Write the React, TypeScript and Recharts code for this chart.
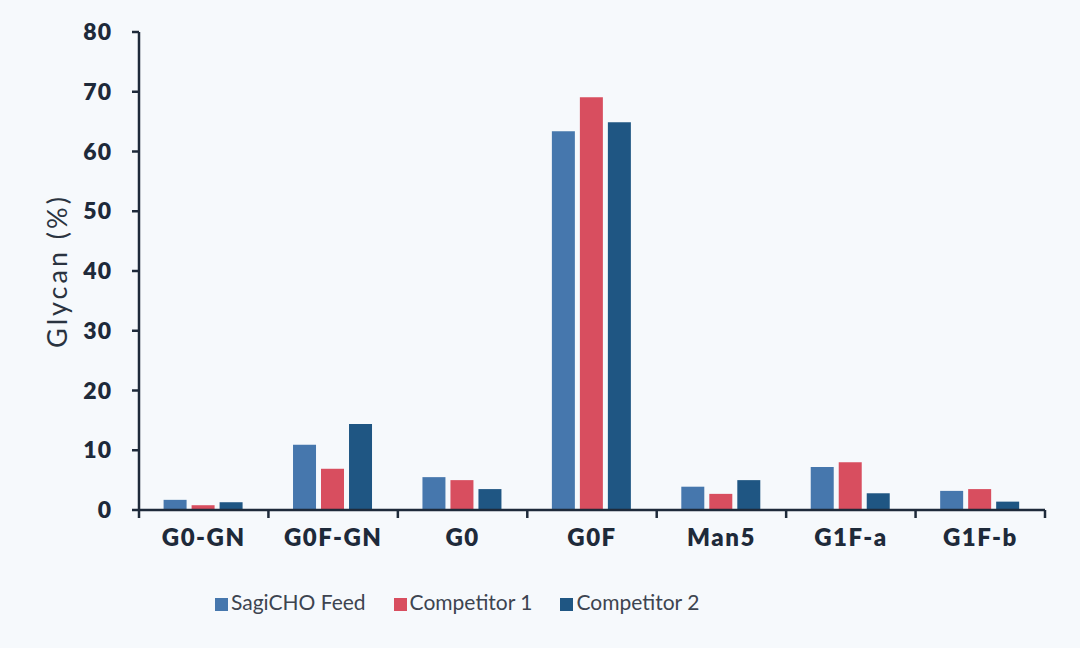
import { Bar, BarChart, Legend, XAxis, YAxis } from "recharts";

const categories = ["G0-GN", "G0F-GN", "G0", "G0F", "Man5", "G1F-a", "G1F-b"];
const sagiCho = [1.7, 10.9, 5.5, 63.4, 3.9, 7.2, 3.2];
const competitor1 = [0.8, 6.9, 5.0, 69.1, 2.7, 8.0, 3.5];
const competitor2 = [1.3, 14.4, 3.5, 64.9, 5.0, 2.8, 1.4];
const yTicks = [0, 10, 20, 30, 40, 50, 60, 70, 80];

const series = [
  { key: "sagi", name: "SagiCHO Feed", color: "#4677ad" },
  { key: "comp1", name: "Competitor 1", color: "#d84e5f" },
  { key: "comp2", name: "Competitor 2", color: "#1f5683" },
];

const data = categories.map((c, i) => ({
  name: c,
  sagi: sagiCho[i],
  comp1: competitor1[i],
  comp2: competitor2[i],
}));

const AXIS = "#1e2a3a";
const FONT = "Lato, 'Noto Sans', sans-serif";

function CategoryTick(props: any) {
  const { x, y, payload, index, width } = props;
  const half = payload?.offset ?? width / categories.length / 2;
  const last = index === categories.length - 1;
  return (
    <g>
      <line x1={x - half} y1={y - 8} x2={x - half} y2={y} stroke={AXIS} strokeWidth={2.5} />
      {last && <line x1={x + half} y1={y - 8} x2={x + half} y2={y} stroke={AXIS} strokeWidth={2.5} />}
      <text
        x={x}
        y={y + 28}
        textAnchor="middle"
        fill={AXIS}
        fontFamily={FONT}
        fontWeight={800}
        fontSize={24}
        letterSpacing={1.5}
      >
        {payload.value}
      </text>
    </g>
  );
}

function LegendContent() {
  return (
    <div
      style={{
        display: "flex",
        alignItems: "center",
        paddingLeft: 215,
        height: 30,
        fontFamily: FONT,
        fontSize: 21,
        color: "#3d4450",
      }}
    >
      {series.map((s) => (
        <div key={s.key} style={{ display: "flex", alignItems: "center", marginRight: 28 }}>
          <span
            style={{
              display: "inline-block",
              width: 13,
              height: 13,
              background: s.color,
              marginRight: 3,
              marginTop: 6,
            }}
          />
          <span>{s.name}</span>
        </div>
      ))}
    </div>
  );
}

export default function App() {
  return (
    <div style={{ position: "absolute", left: 0, top: 0, width: 1080, height: 648, background: "#f6f9fc" }}>
      <BarChart
        width={1080}
        height={648}
        data={data}
        margin={{ top: 32, right: 35, bottom: 32, left: 0 }}
        barCategoryGap="19%"
        barGap={5}
      >
        <XAxis
          dataKey="name"
          height={76}
          axisLine={{ stroke: AXIS, strokeWidth: 2.5 }}
          tickLine={false}
          tick={<CategoryTick />}
          interval={0}
        />
        <YAxis
          width={139}
          domain={[0, 80]}
          ticks={yTicks}
          interval={0}
          axisLine={{ stroke: AXIS, strokeWidth: 2.5 }}
          tickLine={{ stroke: AXIS, strokeWidth: 2.5 }}
          tickSize={7}
          tickMargin={20}
          tick={{ fill: AXIS, fontFamily: FONT, fontWeight: 800, fontSize: 23, letterSpacing: 1 }}
          label={({ viewBox }: any) => (
            <text
              x={56}
              y={viewBox.y + viewBox.height / 2}
              transform={`rotate(-90, 56, ${viewBox.y + viewBox.height / 2})`}
              textAnchor="middle"
              dominantBaseline="central"
              fill="#2a3340"
              fontFamily={FONT}
              fontSize={27}
              letterSpacing={3}
            >
              Glycan (%)
            </text>
          )}
        />
        <Legend verticalAlign="bottom" content={<LegendContent />} />
        {series.map((s) => (
          <Bar key={s.key} dataKey={s.key} name={s.name} fill={s.color} isAnimationActive={false} />
        ))}
      </BarChart>
    </div>
  );
}
